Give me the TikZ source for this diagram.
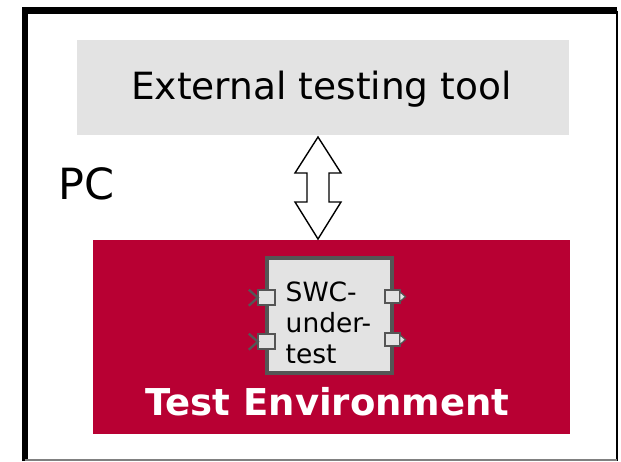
\documentclass[tikz,border=0pt]{standalone}
\usepackage{fontspec}
\setmainfont{DejaVu Sans}
\usetikzlibrary{calc}
\definecolor{toolgray}{RGB}{227,227,227}
\definecolor{envred}{RGB}{184,0,51}
\definecolor{portgray}{RGB}{85,85,85}
\tikzset{
  panel/.style={inner sep=0pt, outer sep=0pt, anchor=north west},
  swcbox/.style={panel, draw=portgray, line width=3.8pt, fill=toolgray},
  port/.style={draw=portgray, fill=toolgray, line width=2pt, inner sep=0pt,
    outer sep=0pt, minimum width=15, minimum height=13},
  inport/.style={port, minimum width=17, minimum height=15},
  portline/.style={draw=portgray, line width=2.3pt},
  porttip/.style={draw=portgray, fill=toolgray, line width=1.2pt, line join=miter},
  bigarrow/.style={draw=black, fill=white, line width=1.4pt, line join=miter},
  label/.style={inner sep=0pt, anchor=base},
  swctext/.style={inner sep=0pt, anchor=base west, font=\fontsize{26.5}{32}\selectfont}
}
\begin{document}
\begin{tikzpicture}[x=1pt,y=-1pt]
\useasboundingbox (0,0) rectangle (621,461);
\fill[white] (0,0) rectangle (621,461);

% frame of the PC area
\draw[black, line width=6.5pt] (25,461) -- (25,10.5) -- (617,10.5);
\draw[black, line width=1.2pt] (617,10.5) -- (617,461);
\draw[gray, line width=1.5pt] (25,459.8) -- (617,459.8);

% external testing tool
\node[panel, fill=toolgray, minimum width=492, minimum height=95] (tool) at (77,40) {};
\node[label, font=\fontsize{37.5}{45}\selectfont] (tooltext) at (321.5,99) {External testing tool};

% PC label
\node[inner sep=0pt, anchor=base west, font=\fontsize{43}{52}\selectfont] (pc) at (58,199.5) {PC};

% test environment
\node[panel, fill=envred, minimum width=477, minimum height=194] (env) at (93,240) {};
\node[label, text=white, font=\bfseries\fontsize{37}{44}\selectfont] (envtext) at (327.5,415) {Test Environment};

% two-way link between tool and environment
\coordinate (up) at ($(tool.south)+(-5,2)$);
\coordinate (dn) at ($(env.north)+(-13.5,-1)$);
\draw[bigarrow] (up) -- ($(up)+(23,36)$) -- ($(up)+(11,36)$) -- ($(dn)+(11,-37)$)
  -- ($(dn)+(23,-37)$) -- (dn) -- ($(dn)+(-23,-37)$) -- ($(dn)+(-11,-37)$)
  -- ($(up)+(-11,36)$) -- ($(up)+(-23,36)$) -- cycle;

% software component under test
\node[swcbox, minimum width=125, minimum height=115] (swc) at (267,258) {};
\node[swctext] (swcA) at (285.5,301.5) {SWC-};
\node[swctext] (swcB) at (285.5,332.5) {under-};
\node[swctext] (swcC) at (285.5,363.5) {test};

% receiver ports
\node[inport] (inA) at (266.3,297.7) {};
\node[inport] (inB) at (266.3,341.7) {};
\foreach \p in {inA,inB}
  \draw[portline] ($(\p.west)+(-9,-8)$) -- (\p.west) -- ($(\p.west)+(-9,8)$);

% sender ports
\node[port] (outA) at (392,296.7) {};
\node[port] (outB) at (392,339.7) {};
\foreach \p in {outA,outB}
  \draw[porttip] ($(\p.east)+(0.3,-5)$) -- ($(\p.east)+(6,0)$) -- ($(\p.east)+(0.3,5)$) -- cycle;
\end{tikzpicture}
\end{document}
